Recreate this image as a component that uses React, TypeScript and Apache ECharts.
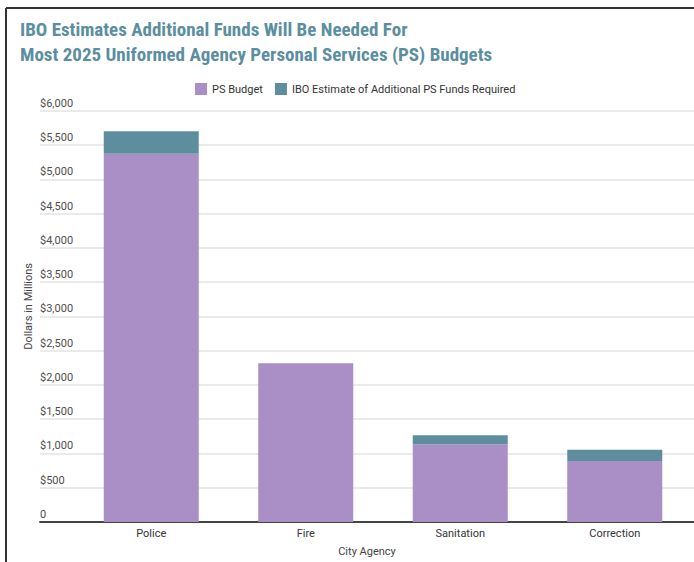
import React, { useEffect, useRef } from "react";
import * as echarts from "echarts";

const categories = ["Police", "Fire", "Sanitation", "Correction"];
const psBudget = [5373, 2315, 1133, 890];
const additionalFunds = [326, 0, 132, 165];
const yTicks = { min: 0, max: 6000, interval: 500 };

const titleLines = [
  "IBO Estimates Additional Funds Will Be Needed For",
  "Most 2025 Uniformed Agency Personal Services (PS) Budgets",
];

const PURPLE = "#a98fc6";
const TEAL = "#5e8e9e";
const FONT = "Roboto, 'Noto Sans', sans-serif";

export default function App() {
  const ref = useRef<HTMLDivElement>(null);
  useEffect(() => {
    document.body.style.margin = "0";
    const chart = echarts.init(ref.current!, null, { renderer: "svg" });
    const fmt = (v: number) =>
      v === 0 ? "0" : "$" + v.toLocaleString("en-US");
    chart.setOption({
      animation: false,
      backgroundColor: "#ffffff",
      textStyle: { fontFamily: FONT },
      title: {
        text: titleLines.join("\n"),
        left: 15,
        top: 11.5,
        textStyle: {
          fontFamily: "'Roboto Condensed', 'Liberation Sans Narrow', 'Arial Narrow', Roboto, sans-serif",
          fontSize: 19,
          fontWeight: "bold",
          color: "#5b8ea1",
          lineHeight: 25,
        },
      },
      legend: {
        top: 78,
        left: 190,
        itemWidth: 12,
        itemHeight: 12,
        itemGap: 12,
        icon: "rect",
        textStyle: { fontSize: 11, color: "#333", fontFamily: FONT },
        data: ["PS Budget", "IBO Estimate of Additional PS Funds Required"],
      },
      grid: [
        { left: 74, right: 2, top: 110.7, bottom: 40, containLabel: false },
        { left: 40, right: 0, top: 110.7, bottom: 40, containLabel: false },
      ],
      xAxis: [
        {
          type: "category",
          gridIndex: 0,
          data: categories,
          axisLine: { show: false },
          axisTick: { show: false },
          axisLabel: { fontSize: 11, color: "#333", margin: 6, fontFamily: FONT },
        },
        {
          type: "value",
          gridIndex: 1,
          min: 0,
          max: 1,
          axisLine: { show: true, onZero: false, lineStyle: { color: "#444", width: 2 } },
          axisTick: { show: false },
          axisLabel: { show: false },
          splitLine: { show: false },
          name: "City Agency",
          nameLocation: "middle",
          nameGap: 24,
          nameTextStyle: { fontSize: 11, color: "#444", fontFamily: FONT },
        },
      ],
      yAxis: [
        {
          type: "value",
          gridIndex: 0,
          min: yTicks.min,
          max: yTicks.max,
          interval: yTicks.interval,
          axisLine: { show: false },
          axisTick: { show: false },
          axisLabel: { show: false },
          splitLine: { show: false },
        },
        {
          type: "value",
          gridIndex: 1,
          min: yTicks.min,
          max: yTicks.max,
          interval: yTicks.interval,
          axisLine: { show: false },
          axisTick: { show: false },
          axisLabel: {
            inside: true,
            margin: 0,
            align: "left",
            verticalAlign: "bottom",
            padding: [0, 0, 2, 0],
            fontSize: 11,
            color: "#4d4d4d",
            fontFamily: FONT,
            formatter: fmt,
          },
          splitLine: { show: true, lineStyle: { color: "#e3e3e3", width: 1.5 } },
          z: 0,
        },
      ],
      graphic: [
        {
          type: "text",
          left: 23,
          top: 263,
          rotation: Math.PI / 2,
          style: {
            text: "Dollars in Millions",
            fontSize: 11,
            fill: "#444",
            fontFamily: FONT,
          },
          z: 10,
        },
        {
          type: "line",
          shape: { x1: 6, y1: 8, x2: 694, y2: 8 },
          style: { stroke: "#333", lineWidth: 2 },
        },
        {
          type: "line",
          shape: { x1: 6, y1: 8, x2: 6, y2: 562 },
          style: { stroke: "#333", lineWidth: 2 },
        },
      ],
      series: [
        {
          name: "PS Budget",
          type: "bar",
          stack: "total",
          xAxisIndex: 0,
          yAxisIndex: 0,
          barWidth: 95,
          itemStyle: { color: PURPLE },
          data: psBudget,
          z: 3,
        },
        {
          name: "IBO Estimate of Additional PS Funds Required",
          type: "bar",
          stack: "total",
          xAxisIndex: 0,
          yAxisIndex: 0,
          barWidth: 95,
          itemStyle: { color: TEAL },
          data: additionalFunds,
          z: 3,
        },
      ],
    });
    return () => chart.dispose();
  }, []);
  return (
    <div
      ref={ref}
      style={{ position: "fixed", left: 0, top: 0, width: 694, height: 562 }}
    />
  );
}
